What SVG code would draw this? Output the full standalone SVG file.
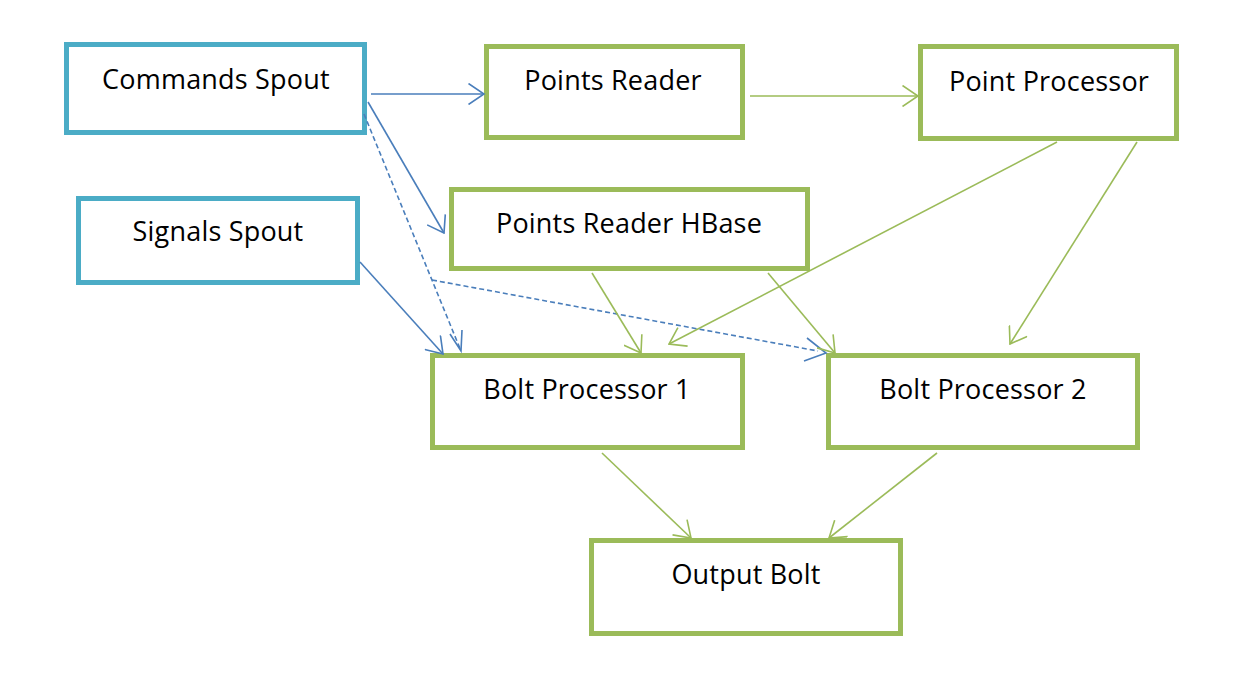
<svg xmlns="http://www.w3.org/2000/svg" width="1260" height="673" viewBox="0 0 1260 673">
<style>
.spout{fill:#fff;stroke:#4BACC6;stroke-width:5}
.bolt{fill:#fff;stroke:#9BBB59;stroke-width:5}
.lbl{font-family:"Open Sans","Noto Sans",sans-serif;font-size:27px;letter-spacing:0.2px;fill:#000;text-anchor:middle}
.cb{stroke:#4A7EBB;stroke-width:1.6;fill:none;marker-end:url(#ab)}
.cd{stroke:#4A7EBB;stroke-width:1.6;fill:none;stroke-dasharray:5 3}
.cg{stroke:#9BBB59;stroke-width:1.6;fill:none;marker-end:url(#ag)}
</style>
<defs>
<marker id="ab" viewBox="0 0 18 22" refX="16.5" refY="11" markerWidth="18" markerHeight="22" markerUnits="userSpaceOnUse" orient="auto">
<path d="M1,0.5 L16.5,11 L1,21.5" fill="none" stroke="#4A7EBB" stroke-width="1.6"/>
</marker>
<marker id="ag" viewBox="0 0 18 22" refX="16.5" refY="11" markerWidth="18" markerHeight="22" markerUnits="userSpaceOnUse" orient="auto">
<path d="M1,0.5 L16.5,11 L1,21.5" fill="none" stroke="#9BBB59" stroke-width="1.6"/>
</marker>
</defs>
<rect width="1260" height="673" fill="#fff"/>
<g id="nodes">
<g id="commands-spout"><rect class="spout" x="66.5" y="44.5" width="298" height="88"/><text class="lbl" x="216" y="89">Commands Spout</text></g>
<g id="signals-spout"><rect class="spout" x="78.5" y="198.5" width="279" height="84"/><text class="lbl" x="218" y="241">Signals Spout</text></g>
<g id="points-reader"><rect class="bolt" x="486.5" y="46.5" width="256" height="91"/><text class="lbl" x="613" y="90">Points Reader</text></g>
<g id="point-processor"><rect class="bolt" x="920.5" y="46.5" width="256" height="92"/><text class="lbl" x="1049" y="91">Point Processor</text></g>
<g id="points-reader-hbase"><rect class="bolt" x="451.5" y="189.5" width="356" height="79"/><text class="lbl" x="629" y="233">Points Reader HBase</text></g>
<g id="bolt-processor-1"><rect class="bolt" x="432.5" y="355.5" width="310" height="92"/><text class="lbl" x="587" y="399">Bolt Processor 1</text></g>
<g id="bolt-processor-2"><rect class="bolt" x="828.5" y="355.5" width="309" height="92"/><text class="lbl" x="983" y="399">Bolt Processor 2</text></g>
<g id="output-bolt"><rect class="bolt" x="591.5" y="540.5" width="309" height="93"/><text class="lbl" x="746" y="584">Output Bolt</text></g>
</g>
<g id="connectors">
<line class="cb" x1="371" y1="94" x2="484" y2="94"/>
<line class="cb" x1="368" y1="102" x2="444" y2="233"/>
<line class="cd" x1="364" y1="114" x2="461" y2="351"/>
<path d="M450,334 L461,351 L462,330" fill="none" stroke="#4A7EBB" stroke-width="1.6"/>
<line class="cd" x1="432" y1="280" x2="818" y2="351"/>
<path d="M807,338 L826,353 L804,361" fill="none" stroke="#4A7EBB" stroke-width="1.6"/>
<line class="cb" x1="360" y1="262" x2="443" y2="354"/>
<line class="cg" x1="750" y1="96" x2="918" y2="96"/>
<line class="cg" x1="1057" y1="142" x2="669" y2="344"/>
<line class="cg" x1="1137" y1="142" x2="1010" y2="344"/>
<line class="cg" x1="592" y1="273" x2="641" y2="353"/>
<line class="cg" x1="768" y1="273" x2="835" y2="353"/>
<line class="cg" x1="602" y1="453" x2="691" y2="538"/>
<line class="cg" x1="937" y1="453" x2="829" y2="538"/>
</g>
</svg>
